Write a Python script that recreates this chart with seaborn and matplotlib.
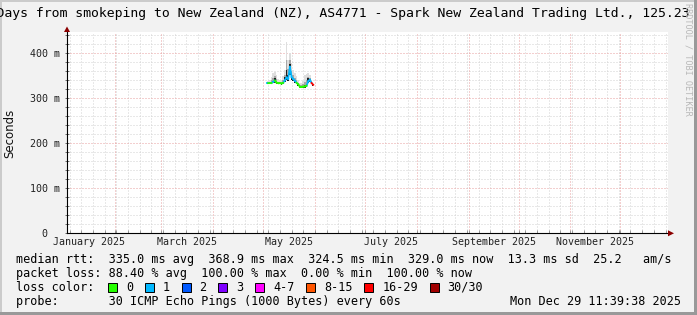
import matplotlib
matplotlib.use("Agg")
import matplotlib.pyplot as plt
import matplotlib.dates as mdates
from matplotlib.patches import Rectangle, Polygon
import seaborn as sns
import pandas as pd
from datetime import datetime, timedelta

# ---------------- data ----------------
title = "360 Days from smokeping to New Zealand (NZ), AS4771 - Spark New Zealand Trading Ltd., 125.23"
end_time = datetime(2025, 12, 29, 11, 39, 38)
span_days = 360

dates = ["2025-05-03", "2025-05-04", "2025-05-05", "2025-05-06", "2025-05-07",
         "2025-05-08", "2025-05-09", "2025-05-10", "2025-05-11", "2025-05-12",
         "2025-05-13", "2025-05-14", "2025-05-15", "2025-05-16", "2025-05-17",
         "2025-05-18", "2025-05-19", "2025-05-20", "2025-05-21", "2025-05-22",
         "2025-05-23", "2025-05-24", "2025-05-25", "2025-05-26", "2025-05-27",
         "2025-05-28", "2025-05-29", "2025-05-30", "2025-05-31"]
median_ms = [332.6, 332.6, 332.8, 333.0, 335.5, 338.5, 334.0, 332.5, 332.5, 332.0,
             333.5, 339.0, 345.0, 342.0, 368.9, 346.0, 342.0, 338.0, 333.5, 330.0,
             324.5, 324.5, 325.0, 325.5, 327.0, 337.0, 340.0, 333.0, 329.0]
loss_idx = [0, 1, 0, 0, 1, 1, 0, 0, 0, 0,
            0, 1, 1, 1, 1, 1, 1, 1, 1, 0,
            0, 0, 0, 0, 0, 1, 1, 1, 6]
smoke_max = [335, 337, 340, 346, 355, 358, 350, 342, 340, 339,
             348, 362, 423, 385, 400, 378, 362, 355, 348, 340,
             332, 333, 338, 350, 354, 356, 350, 340, 334]
smoke_mid = [334, 335, 336, 339, 344, 348, 341, 336, 335, 335,
             339, 350, 385, 365, 385, 360, 350, 345, 339, 334,
             328, 328, 330, 336, 340, 346, 345, 337, 331]
smoke_dark = [333.5, 334, 334, 335, 338, 343, 336, 334, 334, 333.5,
              335, 346, 362, 350, 376, 352, 345, 340, 335, 331.5,
              326, 326, 327, 328, 330, 344, 342, 334.5, 330]
smoke_min = [330, 330, 330, 330.5, 332, 334, 331, 330, 330, 329.5,
             330.5, 335, 339, 337, 350, 340, 337, 334, 330, 327,
             322.5, 322.5, 323, 323, 324.5, 332, 336, 330, 327]

loss_labels = ["0", "1", "2", "3", "4-7", "8-15", "16-29", "30/30"]
loss_colors = ["#26ff00", "#00b8ff", "#0059ff", "#7e00ff", "#ff00ff",
               "#ff5500", "#ff0000", "#a10000"]

y_ticks = [0, 100, 200, 300, 400]
y_tick_labels = ["  0  ", "100 m", "200 m", "300 m", "400 m"]
y_max = 446
month_labels = ["January 2025", "March 2025", "May 2025", "July 2025",
                "September 2025", "November 2025"]
label_months = [1, 3, 5, 7, 9, 11]

rtt_line = "median rtt:  335.0 ms avg  368.9 ms max  324.5 ms min  329.0 ms now  13.3 ms sd  25.2   am/s"
loss_line = "packet loss: 88.40 % avg  100.00 % max  0.00 % min  100.00 % now"
color_head = "loss color:"
probe_line = "probe:       30 ICMP Echo Pings (1000 Bytes) every 60s"
stamp = "Mon Dec 29 11:39:38 2025"

# ---------------- figure ----------------
W, H = 697, 315
BG = "#f2f2f2"
MONO = "DejaVu Sans Mono"
fig = plt.figure(figsize=(W / 100, H / 100), dpi=100, facecolor=BG)
L, R, T, B = 67, 668, 32, 233.3
ax = fig.add_axes([L / W, (H - B) / H, (R - L) / W, (B - T) / H])
ax.set_facecolor("white")

t = mdates.date2num(pd.to_datetime(dates).to_pydatetime())
x0 = mdates.date2num(end_time - timedelta(days=span_days))
x1 = mdates.date2num(end_time)

# grid
minor_c, major_c = "#d2d2d2", "#e8a0a0"
dash = (0, (1, 2))
for v in range(20, y_max, 20):
    if v % 100:
        ax.axhline(v, color=minor_c, lw=0.72, ls=dash, zorder=1)
for v in range(100, y_max, 100):
    ax.axhline(v, color=major_c, lw=0.72, ls=dash, zorder=1.1)
month_starts = [datetime(2025, m, 1) for m in range(1, 13)] + [datetime(2026, 1, 1)]
ms_num = [mdates.date2num(d) for d in month_starts]
wk = datetime(2025, 1, 5)
weeks = []
while wk < end_time:
    if wk.day != 1:
        weeks.append(mdates.date2num(wk))
    wk += timedelta(days=7)
for w in weeks:
    if x0 < w < x1:
        ax.axvline(w, color=minor_c, lw=0.72, ls=dash, zorder=1)
for m in ms_num:
    if x0 < m < x1:
        ax.axvline(m, color=major_c, lw=0.72, ls=dash, zorder=1.1)

# smoke
ax.fill_between(t, smoke_min, smoke_max, step="mid", color="#dedede", lw=0, zorder=2)
ax.fill_between(t, smoke_min, smoke_mid, step="mid", color="#a6a6a6", lw=0, zorder=2.1)
ax.fill_between(t, smoke_min, smoke_dark, step="mid", color="#1e1e1e", lw=0, zorder=2.2)

# median line coloured by loss (segment takes colour of its end point)
rows = []
for i in range(len(t) - 1):
    for j in (i, i + 1):
        rows.append({"t": t[j], "ms": median_ms[j], "seg": i,
                     "loss": loss_labels[loss_idx[i + 1]]})
seg_df = pd.DataFrame(rows)
sns.lineplot(data=seg_df, x="t", y="ms", hue="loss", units="seg", estimator=None,
             palette=dict(zip(loss_labels, loss_colors)), legend=False,
             linewidth=1.3, ax=ax, zorder=4)

ax.set_xlim(x0, x1)
ax.set_ylim(0, y_max)
ax.set_xlabel("")

# axes styling
for s in ("top", "right"):
    ax.spines[s].set_visible(False)
for s in ("left", "bottom"):
    ax.spines[s].set_color("#000000")
    ax.spines[s].set_linewidth(0.8)

ax.set_yticks(y_ticks)
ax.set_yticklabels(y_tick_labels, fontfamily=MONO, fontsize=7.2, color="#222222")
for lab in ax.get_yticklabels():
    lab.set_horizontalalignment("left")
ax.tick_params(axis="y", which="major", length=0, pad=26.6)
ax.yaxis.remove_overlapping_locs = False
ax.set_yticks(list(range(0, y_max, 20)), minor=True)
ax.tick_params(axis="y", which="minor", length=3, direction="inout", color="#555555", width=0.6)

lab_pos = [(ms_num[m - 1] + ms_num[m]) / 2 for m in label_months]
ax.set_xticks(lab_pos)
ax.set_xticklabels(month_labels, fontfamily=MONO, fontsize=7.2, color="#222222")
ax.tick_params(axis="x", which="major", length=0, pad=2.9)
ax.xaxis.remove_overlapping_locs = False
ax.set_xticks([v for v in weeks + ms_num if x0 < v < x1], minor=True)
ax.tick_params(axis="x", which="minor", length=2, direction="in", color="#888888", width=0.6)

ax.set_ylabel("Seconds", fontfamily="DejaVu Sans", fontsize=8.5, color="#111111")
ax.yaxis.label.set_verticalalignment("center")
ax.yaxis.set_label_coords((10 - L) / (R - L), (B - 133) / (B - T))

# ---------------- overlay (pixel coordinates) ----------------
ov = fig.add_axes([0, 0, 1, 1], zorder=10)
ov.set_xlim(0, W)
ov.set_ylim(H, 0)
ov.axis("off")
ov.patch.set_visible(False)

# arrows
ov.add_patch(Polygon([(668, 230.3), (674, 233.3), (668, 236.3)], closed=True,
                     color="#8b0000", lw=0))
ov.add_patch(Polygon([(64, 32), (67, 26.5), (70, 32)], closed=True,
                     color="#8b0000", lw=0))

ov.text(-34.6, 14, title, ha="left", va="center", fontfamily=MONO, fontsize=9.45,
        color="#000000")
ov.text(688, 3, "RRDTOOL / TOBI OETIKER", rotation=270, ha="center", va="top",
        fontfamily=MONO, fontsize=6.1, color="#b8b8b8")

fs = 8.5
ov.text(16, 260, rtt_line, ha="left", va="center", fontfamily=MONO, fontsize=fs)
ov.text(16, 273.6, loss_line, ha="left", va="center", fontfamily=MONO, fontsize=fs)
ov.text(16, 287.2, color_head, ha="left", va="center", fontfamily=MONO, fontsize=fs)
ov.text(16, 301.2, probe_line, ha="left", va="center", fontfamily=MONO, fontsize=fs)
ov.text(681, 301.2, stamp, ha="right", va="center", fontfamily=MONO, fontsize=fs)

xs = 108.0
cw = 7.1
for lab, col in zip(loss_labels, loss_colors):
    ov.add_patch(Rectangle((xs, 282.5), 9, 9, facecolor=col, edgecolor="#000000", lw=0.7))
    ov.text(xs + 18, 287.2, lab, ha="left", va="center", fontfamily=MONO, fontsize=fs)
    xs += 18 + cw * len(lab) + 11.7

# 3D frame
ov.add_patch(Rectangle((0, 0), 2, H, color="#cbcbcb", lw=0))
ov.add_patch(Rectangle((0, 0), W, 2, color="#cbcbcb", lw=0))
ov.add_patch(Rectangle((W - 3, 0), 3, H, color="#999999", lw=0))
ov.add_patch(Rectangle((0, H - 3), W, 3, color="#999999", lw=0))

fig.savefig("out.png", dpi=100, facecolor=BG)
